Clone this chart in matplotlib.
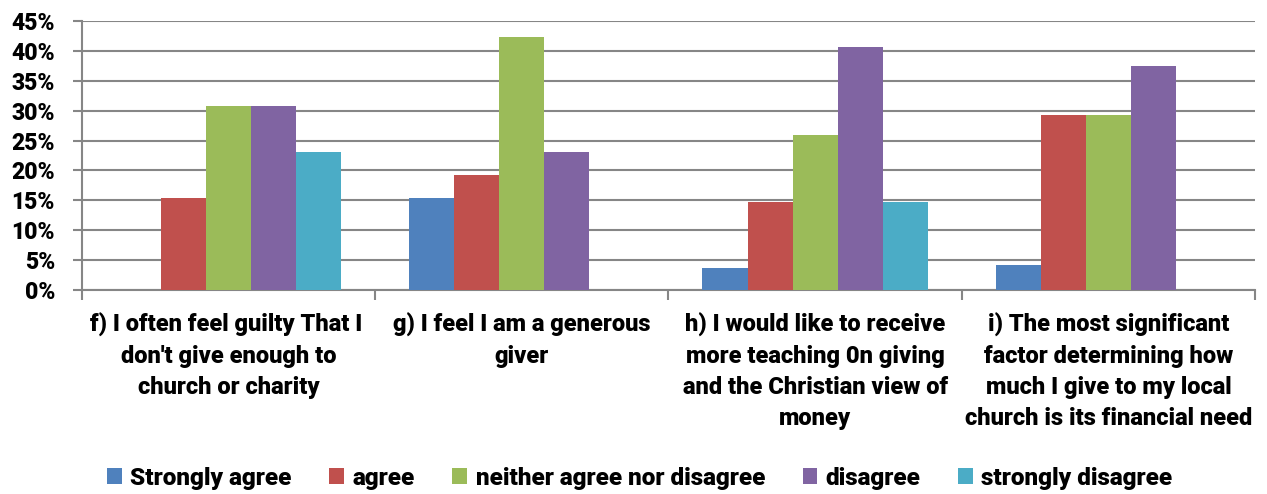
import matplotlib
matplotlib.use("Agg")
import matplotlib.pyplot as plt
import numpy as np

categories = [
    "f) I often feel guilty That I \ndon't give enough to\nchurch or charity",
    "g) I feel I am a generous\ngiver",
    "h) I would like to receive\nmore teaching 0n giving\nand the Christian view of\nmoney",
    "i) The most significant\nfactor determining how\nmuch I give to my local\nchurch is its financial need",
]
series_names = ["Strongly agree", "agree", "neither agree nor disagree", "disagree", "strongly disagree"]
strongly_agree = [0.0, 15.4, 3.7, 4.2]
agree = [15.4, 19.2, 14.8, 29.2]
neither = [30.8, 42.3, 25.9, 29.2]
disagree = [30.8, 23.1, 40.7, 37.5]
strongly_disagree = [23.1, 0.0, 14.8, 0.0]
yticks = [0, 5, 10, 15, 20, 25, 30, 35, 40, 45]
colors = ["#4F81BD", "#C0504D", "#9BBB59", "#8064A2", "#4BACC6"]

plt.rcParams['font.family'] = ['Roboto', 'DejaVu Sans']
W = 900

fig = plt.figure(figsize=(12.67, 4.94), dpi=100)
ax = fig.add_axes([0.0647, 0.413, 0.9258, 0.5445])

data = [strongly_agree, agree, neither, disagree, strongly_disagree]
n = len(data)
group = 0.768
w = group / n
x = np.arange(len(categories))
for i, (vals, name, c) in enumerate(zip(data, series_names, colors)):
    ax.bar(x - group / 2 + w * (i + 0.5), vals, width=w, color=c, label=name, zorder=3,
           linewidth=0)

ax.set_xlim(-0.5, len(categories) - 0.5)
ax.set_ylim(0, 45)
ax.set_yticks(yticks)
ax.set_yticklabels([f"{v}%" for v in yticks], fontsize=16.5, fontweight=W)
ax.yaxis.grid(True, color='#868686', linewidth=1.5, zorder=0)
ax.set_axisbelow(True)

ax.set_xticks(np.arange(-0.5, len(categories)), minor=False)
ax.set_xticklabels([])
ax.set_xticks(x, minor=True)
ax.set_xticklabels(categories, minor=True, fontsize=17, fontweight=W, linespacing=1.45,
                   va='top')
ax.tick_params(axis='x', which='minor', length=0, pad=16.5)
ax.tick_params(axis='x', which='major', length=7, width=1.5, color='#868686', direction='out')
ax.tick_params(axis='y', length=6.5, width=1.5, color='#868686', pad=13)

for s in ['top', 'right']:
    ax.spines[s].set_visible(False)
for s in ['left', 'bottom']:
    ax.spines[s].set_color('#868686')
    ax.spines[s].set_linewidth(1.5)

leg = fig.legend(loc='center', bbox_to_anchor=(0.505, 1 - 478 / 494), ncol=5, frameon=False,
                 prop={'size': 17.5, 'weight': W}, handlelength=0.6, handleheight=0.6,
                 handletextpad=0.35, columnspacing=1.55)

fig.savefig("out.png", dpi=100)
